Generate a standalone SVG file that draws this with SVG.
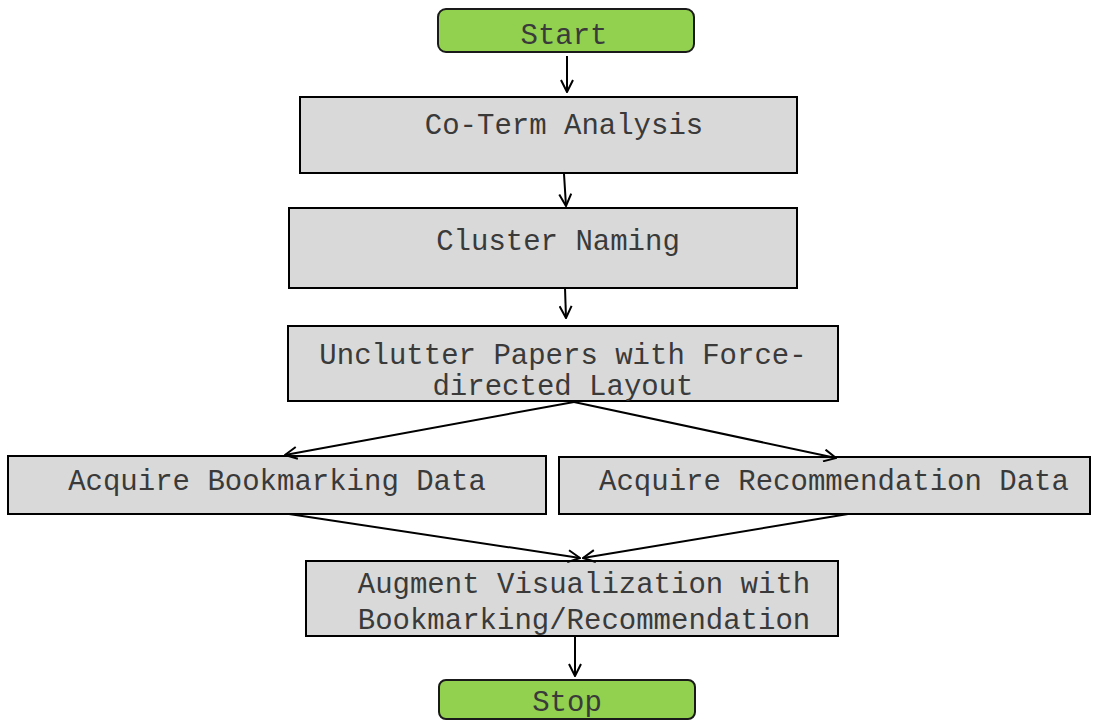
<svg xmlns="http://www.w3.org/2000/svg" width="1104" height="721" viewBox="0 0 1104 721">
  <style>
    .term { fill: #92d050; stroke: #1a1a1a; stroke-width: 2; }
    .step { fill: #d9d9d9; stroke: #000; stroke-width: 2; }
    .label { font-family: "Liberation Mono", "Courier New", monospace; font-size: 29px; fill: #3a3a3a; text-anchor: middle; }
    .wire { stroke: #000; stroke-width: 2; fill: none; marker-end: url(#arrow); }
  </style>
  <defs>
    <marker id="arrow" viewBox="0 0 14 14" refX="13" refY="7" markerWidth="14" markerHeight="14" markerUnits="userSpaceOnUse" orient="auto">
      <path d="M1,1 L13,7 L1,13" fill="none" stroke="#000" stroke-width="2"/>
    </marker>
  </defs>

  <rect width="1104" height="721" fill="#fff"/>

  <g id="start">
    <rect class="term" x="438" y="9" width="256" height="43" rx="8"/>
    <text class="label" x="564" y="44">Start</text>
  </g>

  <g id="co-term">
    <rect class="step" x="300" y="97" width="497" height="76"/>
    <text class="label" x="564" y="134">Co-Term Analysis</text>
  </g>

  <g id="cluster-naming">
    <rect class="step" x="289" y="208" width="508" height="80"/>
    <text class="label" x="558" y="250">Cluster Naming</text>
  </g>

  <g id="unclutter">
    <rect class="step" x="288" y="326" width="550" height="75"/>
    <text class="label" x="563" y="364">Unclutter Papers with Force-</text>
    <text class="label" x="563" y="395">directed Layout</text>
  </g>

  <g id="bookmarking">
    <rect class="step" x="8" y="456" width="538" height="58"/>
    <text class="label" x="277" y="490">Acquire Bookmarking Data</text>
  </g>

  <g id="recommendation">
    <rect class="step" x="559" y="457" width="531" height="57"/>
    <text class="label" x="834" y="490">Acquire Recommendation Data</text>
  </g>

  <g id="augment">
    <rect class="step" x="306" y="561" width="532" height="75"/>
    <text class="label" x="584" y="593">Augment Visualization with</text>
    <text class="label" x="584" y="629">Bookmarking/Recommendation</text>
  </g>

  <g id="stop">
    <rect class="term" x="439" y="680" width="256" height="39" rx="7"/>
    <text class="label" x="567" y="711">Stop</text>
  </g>

  <g id="connectors">
    <line class="wire" x1="567" y1="56" x2="567" y2="92"/>
    <line class="wire" x1="564" y1="174" x2="566" y2="206"/>
    <line class="wire" x1="565" y1="288" x2="566" y2="318"/>
    <line class="wire" x1="574" y1="402" x2="285" y2="455"/>
    <line class="wire" x1="574" y1="402" x2="836" y2="458"/>
    <line class="wire" x1="289" y1="514" x2="580" y2="558"/>
    <line class="wire" x1="848" y1="514" x2="583" y2="558"/>
    <line class="wire" x1="575" y1="636" x2="575" y2="676"/>
  </g>
</svg>
